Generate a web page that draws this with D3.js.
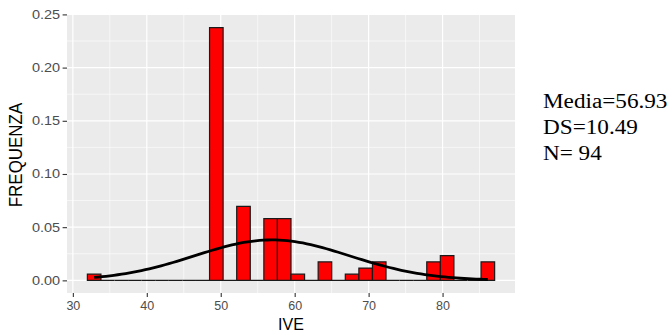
<!DOCTYPE html>
<html>
<head>
<meta charset="utf-8">
<script src="https://cdn.jsdelivr.net/npm/d3@7"></script>
<style>
  body { margin: 0; background: #fff; }
  svg { display: block; }
</style>
</head>
<body>
<div id="chart"></div>
<script>
// data: histogram of IVE (30 bins), counts per bin
const binCounts = [1, 0, 0, 0, 0, 0, 0, 0, 0, 41, 0, 12, 0, 10, 10, 1, 0, 3, 0, 1, 2, 3, 0, 0, 0, 3, 4, 0, 0, 3];
const firstBinCenter = 32.88;
const binWidth = 1.836;
const xTicks = [30, 40, 50, 60, 70, 80];
const yTicks = [0, 0.05, 0.1, 0.15, 0.2, 0.25];
const statLines = ['Media=56.93', 'DS=10.49', 'N= 94'];
const mean = 56.93;
const sd = 10.49;
const N = 94;
const dataMin = 32.88;
const dataMax = 86.13;

const W = 672, H = 336;
const panel = { left: 67, right: 515, top: 15, bottom: 293 };
const stretch = 1.16; // the reference text is a bit wider than tall

const bins = binCounts.map((c, i) => ({
  x0: firstBinCenter + (i - 0.5) * binWidth,
  x1: firstBinCenter + (i + 0.5) * binWidth,
  density: c / (N * binWidth),
}));

const xLo = bins[0].x0, xHi = bins[bins.length - 1].x1;
const xPad = (xHi - xLo) * 0.05;
const yMax = d3.max(bins, (d) => d.density);
const yPad = yMax * 0.05;

const x = d3.scaleLinear().domain([xLo - xPad, xHi + xPad]).range([panel.left, panel.right]);
const y = d3.scaleLinear().domain([-yPad, yMax + yPad]).range([panel.bottom, panel.top]);

const svg = d3.select('#chart').append('svg').attr('width', W).attr('height', H);

// panel background
svg.append('rect')
  .attr('x', panel.left).attr('y', panel.top)
  .attr('width', panel.right - panel.left).attr('height', panel.bottom - panel.top)
  .attr('fill', '#EBEBEB');

// minor grid
const xMinor = xTicks.map((t) => t + 5).concat([xTicks[0] - 5]).filter((t) => x(t) > panel.left && x(t) < panel.right);
const yMinor = yTicks.map((t) => t + 0.025).concat([-0.025]).filter((t) => y(t) > panel.top && y(t) < panel.bottom);
const grid = svg.append('g');
grid.selectAll('.xminor').data(xMinor).join('line')
  .attr('x1', (d) => x(d)).attr('x2', (d) => x(d))
  .attr('y1', panel.top).attr('y2', panel.bottom)
  .attr('stroke', '#fff').attr('stroke-width', 0.6);
grid.selectAll('.yminor').data(yMinor).join('line')
  .attr('y1', (d) => y(d)).attr('y2', (d) => y(d))
  .attr('x1', panel.left).attr('x2', panel.right)
  .attr('stroke', '#fff').attr('stroke-width', 0.6);
// major grid
grid.selectAll('.xmajor').data(xTicks).join('line')
  .attr('x1', (d) => x(d)).attr('x2', (d) => x(d))
  .attr('y1', panel.top).attr('y2', panel.bottom)
  .attr('stroke', '#fff').attr('stroke-width', 1.2);
grid.selectAll('.ymajor').data(yTicks).join('line')
  .attr('y1', (d) => y(d)).attr('y2', (d) => y(d))
  .attr('x1', panel.left).attr('x2', panel.right)
  .attr('stroke', '#fff').attr('stroke-width', 1.2);

// bars (paths so empty bins still show their outline)
svg.append('g').selectAll('path').data(bins).join('path')
  .attr('d', (d) => `M${x(d.x0)},${y(0)}H${x(d.x1)}V${y(d.density)}H${x(d.x0)}Z`)
  .attr('fill', '#FF0000')
  .attr('stroke', '#1a1a1a')
  .attr('stroke-width', 1.2);

// normal curve
const curveX = d3.range(101).map((i) => dataMin + (i * (dataMax - dataMin)) / 100);
const curve = curveX.map((v) => [v, Math.exp(-0.5 * ((v - mean) / sd) ** 2) / (sd * Math.sqrt(2 * Math.PI))]);
svg.append('path')
  .datum(curve)
  .attr('d', d3.line().x((d) => x(d[0])).y((d) => y(d[1])))
  .attr('fill', 'none')
  .attr('stroke', '#000')
  .attr('stroke-width', 2.8);

// axes
const font = '"Liberation Sans", Arial, sans-serif';
const axisY = svg.append('g')
  .attr('transform', `translate(${panel.left},0)`)
  .call(d3.axisLeft(y).tickValues(yTicks).tickFormat(d3.format('.2f')).tickSize(4.4).tickPadding(2.5));
const axisX = svg.append('g')
  .attr('transform', `translate(0,${panel.bottom})`)
  .call(d3.axisBottom(x).tickValues(xTicks).tickSize(4).tickPadding(4));
[axisY, axisX].forEach((g) => {
  g.select('.domain').remove();
  g.selectAll('line').attr('stroke', '#333333').attr('stroke-width', 1.1);
  g.selectAll('text').attr('fill', '#4D4D4D').style('font-family', font).style('font-size', '12.5px');
});
// widen the y tick labels like the reference
axisY.selectAll('text')
  .attr('x', -6.9 / stretch)
  .attr('transform', `scale(${stretch},1)`);

// axis titles
svg.append('text')
  .attr('x', (panel.left + panel.right) / 2).attr('y', 330)
  .attr('text-anchor', 'middle')
  .style('font-family', font).style('font-size', '16px')
  .text('IVE');
svg.append('text')
  .attr('transform', `translate(22,${(panel.top + panel.bottom) / 2 + 1}) rotate(-90) scale(1.06,${stretch})`)
  .attr('text-anchor', 'middle')
  .style('font-family', font).style('font-size', '16px')
  .text('FREQUENZA');

// stats text
svg.append('g')
  .attr('transform', `translate(543,0) scale(${stretch},1)`)
  .selectAll('text').data(statLines).join('text')
  .attr('x', 0).attr('y', (d, i) => 108.5 + i * 26)
  .style('font-family', '"Liberation Serif", "Times New Roman", serif')
  .style('font-size', '20px')
  .attr('fill', '#000')
  .text((d) => d);
</script>
</body>
</html>
